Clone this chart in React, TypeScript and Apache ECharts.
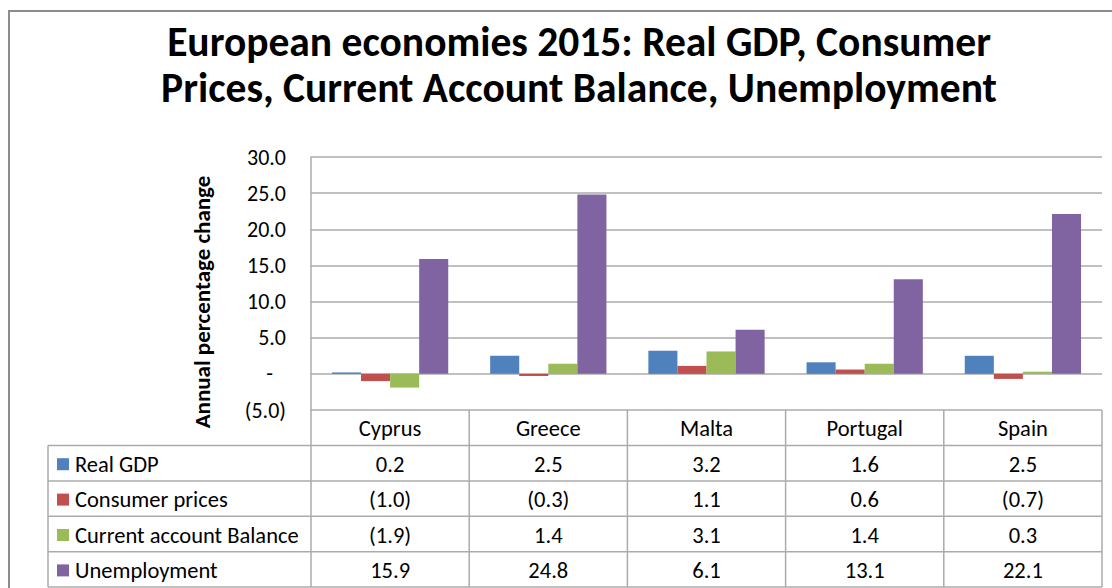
import React, { useEffect, useRef } from "react";
import * as echarts from "echarts";

const categories = ["Cyprus", "Greece", "Malta", "Portugal", "Spain"];
const seriesNames = ["Real GDP", "Consumer prices", "Current account Balance", "Unemployment"];
const realGDP = [0.2, 2.5, 3.2, 1.6, 2.5];
const consumerPrices = [-1.0, -0.3, 1.1, 0.6, -0.7];
const currentAccount = [-1.9, 1.4, 3.1, 1.4, 0.3];
const unemployment = [15.9, 24.8, 6.1, 13.1, 22.1];
const seriesValues = [realGDP, consumerPrices, currentAccount, unemployment];
const colors = ["#4F81BD", "#C0504D", "#9BBB59", "#8064A2"];
const titleLines = [
  "European economies 2015: Real GDP, Consumer",
  "Prices, Current Account Balance, Unemployment",
];
const yAxisTitle = "Annual percentage change";

const FONT = "Carlito, Calibri, Lato, sans-serif";
const LINE = "#ABABAB";

const fmt = (v: number) => (v < 0 ? `(${Math.abs(v).toFixed(1)})` : v.toFixed(1));

export default function App() {
  const ref = useRef<HTMLDivElement>(null);
  useEffect(() => {
    document.body.style.margin = "0";
    const chart = echarts.init(ref.current!, null, { renderer: "svg" });
    const gl = 311, gt = 157, gw = 791, gh = 253;
    const colW = gw / categories.length;
    const tableLeft = 48;
    const headerBottom = 445.5;
    const rowH = 35.4;
    const tableBottom = headerBottom + rowH * seriesValues.length;
    const TF = `22.5px ${FONT}`;

    const graphics: any[] = [];
    graphics.push({
      type: "rect",
      shape: { x: 9, y: 11, width: 1300, height: 800 },
      style: { fill: "none", stroke: "#8C8C8C", lineWidth: 2 },
      silent: true,
    });
    titleLines.forEach((t, i) => {
      graphics.push({
        type: "text",
        x: 579,
        y: 41 + i * 46,
        style: {
          text: t,
          font: `bold 41.5px ${FONT}`,
          fill: "#000",
          align: "center",
          verticalAlign: "middle",
        },
      });
    });
    graphics.push({
      type: "text",
      x: 202,
      y: 302,
      rotation: Math.PI / 2,
      style: {
        text: yAxisTitle,
        font: `bold 23px ${FONT}`,
        fill: "#000",
        align: "center",
        verticalAlign: "middle",
      },
    });
    for (let i = 0; i <= categories.length; i++) {
      const x = gl + colW * i;
      graphics.push({
        type: "line",
        shape: { x1: x, y1: gt + gh, x2: x, y2: tableBottom },
        style: { stroke: LINE, lineWidth: 1.5 },
        silent: true,
      });
    }
    graphics.push({
      type: "line",
      shape: { x1: tableLeft, y1: headerBottom, x2: tableLeft, y2: tableBottom },
      style: { stroke: LINE, lineWidth: 1.5 },
      silent: true,
    });
    for (let r = 0; r <= seriesValues.length; r++) {
      const y = headerBottom + rowH * r;
      graphics.push({
        type: "line",
        shape: { x1: tableLeft, y1: y, x2: gl + gw, y2: y },
        style: { stroke: LINE, lineWidth: 1.5 },
        silent: true,
      });
    }
    categories.forEach((c, i) => {
      graphics.push({
        type: "text",
        x: gl + colW * (i + 0.5),
        y: (gt + gh + headerBottom) / 2 + 1,
        style: { text: c, font: TF, fill: "#000", align: "center", verticalAlign: "middle" },
      });
    });
    seriesValues.forEach((vals, r) => {
      const cy = headerBottom + rowH * (r + 0.5) + 1;
      graphics.push({
        type: "rect",
        shape: { x: 57, y: cy - 6, width: 12, height: 12 },
        style: { fill: colors[r] },
      });
      graphics.push({
        type: "text",
        x: 75,
        y: cy,
        style: { text: seriesNames[r], font: TF, fill: "#000", align: "left", verticalAlign: "middle" },
      });
      vals.forEach((v, i) => {
        graphics.push({
          type: "text",
          x: gl + colW * (i + 0.5),
          y: cy,
          style: { text: fmt(v), font: TF, fill: "#000", align: "center", verticalAlign: "middle" },
        });
      });
    });

    chart.setOption({
      animation: false,
      backgroundColor: "#fff",
      grid: { left: gl, top: gt, width: gw, height: gh, containLabel: false },
      xAxis: {
        type: "category",
        data: categories,
        axisLine: { show: false },
        axisTick: { show: false },
        axisLabel: { show: false },
      },
      yAxis: {
        type: "value",
        min: -5,
        max: 30,
        interval: 5,
        axisLine: { show: true, lineStyle: { color: LINE, width: 1.5 } },
        axisTick: { show: false },
        splitLine: { show: true, lineStyle: { color: LINE, width: 1.5 } },
        axisLabel: {
          margin: 25,
          fontFamily: FONT,
          fontSize: 22,
          color: "#000",
          formatter: (v: number) => (v === 0 ? "{d|-}" : fmt(v)),
          rich: { d: { fontFamily: FONT, fontSize: 22, color: "#000", padding: [0, 13, 0, 0] } },
        },
      },
      series: seriesValues.map((vals, i) => ({
        type: "bar",
        name: seriesNames[i],
        data: vals,
        itemStyle: { color: colors[i] },
        barGap: "0%",
        barCategoryGap: "26.5%",
      })),
      graphic: graphics,
    });
    return () => chart.dispose();
  }, []);
  return <div ref={ref} style={{ width: 1112, height: 588 }} />;
}
